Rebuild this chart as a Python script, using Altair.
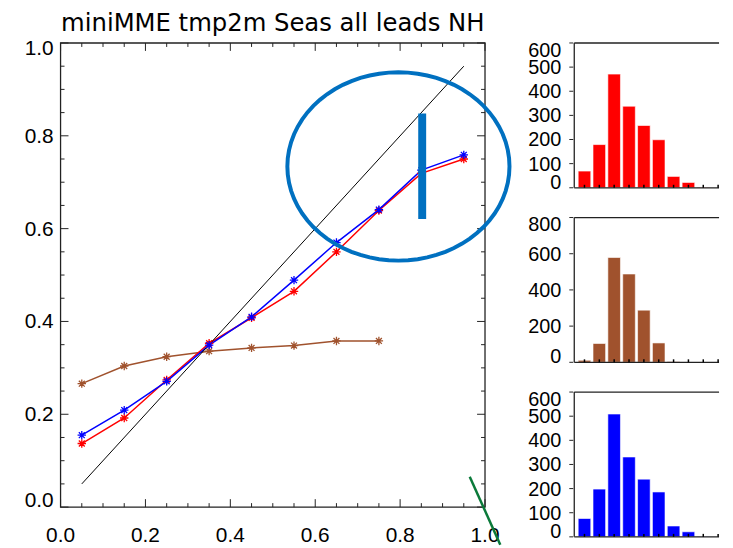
import math
import altair as alt
import pandas as pd

# ---------------- data ----------------
title_text = "miniMME tmp2m Seas all leads NH"
prob_bins = [0.05, 0.15, 0.25, 0.35, 0.45, 0.55, 0.65, 0.75, 0.85, 0.95]
obs_brown = [0.266, 0.304, 0.324, 0.336, 0.343, 0.348, 0.358, 0.358]
obs_red = [0.137, 0.192, 0.274, 0.353, 0.408, 0.465, 0.550, 0.639, 0.719, 0.750]
obs_blue = [0.155, 0.209, 0.271, 0.349, 0.410, 0.489, 0.570, 0.641, 0.726, 0.759]
diag_vals = [0.05, 0.95]

hist_red = [69, 179, 471, 338, 258, 199, 47, 22, 2, 0]
hist_brown = [11, 104, 579, 488, 288, 107, 4, 0, 0, 0]
hist_blue = [76, 198, 509, 331, 239, 186, 45, 21, 1, 0]

main_major = [0.0, 0.2, 0.4, 0.6, 0.8, 1.0]
main_labels = ["0.0", "0.2", "0.4", "0.6", "0.8", "1.0"]
main_minor = [0.05, 0.1, 0.15, 0.25, 0.3, 0.35, 0.45, 0.5, 0.55,
              0.65, 0.7, 0.75, 0.85, 0.9, 0.95]
hist_ticks_600 = [0, 100, 200, 300, 400, 500, 600]
hist_ticks_800 = [0, 200, 400, 600, 800]

# hand-drawn annotations (data coordinates of the main panel)
ell_x = [0.796]
ell_y = [0.734]
vbar_x = [0.852]
vbar_y1 = [0.621]
vbar_y2 = [0.848]
green_x = [0.964, 1.036]
green_y = [0.0656, -0.081]

RED = "#ff0000"
BLUE = "#0000ff"
BROWN = "#a0522d"
ANNO_BLUE = "#0070c0"
GREEN = "#0b7a3a"
INK = "#222222"
FONT = "Liberation Sans"

W, H = 428, 468
HW, HH = 156, 146

ASTERISK = "M-1,0L1,0M0,-1L0,1M-0.7,-0.7L0.7,0.7M-0.7,0.7L0.7,-0.7"
# unit ellipse outline (aspect of the hand-drawn annotation) as a symbol path
_pts = []
for k in range(73):
    t = math.radians(5 * k)
    _pts.append(f"{math.cos(t):.4f},{0.848 * math.sin(t):.4f}")
ELLIPSE = "M" + "L".join(_pts) + "Z"

# ---------------- main panel ----------------
xs = alt.Scale(domain=[0, 1], nice=False, zero=False)
ys = alt.Scale(domain=[0, 1], nice=False, zero=False)

rows = []
for name, vals in (("brown", obs_brown), ("red", obs_red), ("blue", obs_blue)):
    for p, v in zip(prob_bins, vals):
        rows.append({"p": p, "val": v, "series": name})
df_lines = pd.DataFrame(rows)
color_scale = alt.Scale(domain=["brown", "red", "blue"], range=[BROWN, RED, BLUE])

lines = alt.Chart(df_lines).mark_line(strokeWidth=1.5).encode(
    x=alt.X("p:Q", scale=xs, axis=None),
    y=alt.Y("val:Q", scale=ys, axis=None),
    color=alt.Color("series:N", scale=color_scale, legend=None),
)
points = alt.Chart(df_lines).mark_point(
    shape=ASTERISK, size=72, filled=False, strokeWidth=1.3, opacity=1
).encode(
    x=alt.X("p:Q", axis=None),
    y=alt.Y("val:Q", axis=None),
    color=alt.Color("series:N", scale=color_scale, legend=None),
)

frame_df = pd.DataFrame({"x0": [0.0], "x1": [1.0], "y0": [0.0], "y1": [1.0]})
frame = alt.Chart(frame_df).mark_rect(
    filled=False, stroke=INK, strokeWidth=1.3
).encode(
    x=alt.X("x0:Q", axis=None), x2="x1:Q",
    y=alt.Y("y0:Q", axis=None), y2="y1:Q",
)

diag = alt.Chart(pd.DataFrame({"d": diag_vals})).mark_line(
    color="black", strokeWidth=1
).encode(x=alt.X("d:Q", axis=None), y=alt.Y("d:Q", axis=None))

def tick_layers(vals, length):
    d = pd.DataFrame({"v": vals})
    base = alt.Chart(d).mark_rule(color=INK, strokeWidth=1)
    return [
        base.encode(y=alt.Y("v:Q", axis=None), x=alt.value(0), x2=alt.value(length)),
        base.encode(y=alt.Y("v:Q", axis=None), x=alt.value(W), x2=alt.value(W - length)),
        base.encode(x=alt.X("v:Q", axis=None), y=alt.value(H), y2=alt.value(H - length)),
        base.encode(x=alt.X("v:Q", axis=None), y=alt.value(0), y2=alt.value(length)),
    ]

ticks = tick_layers(main_major, 8) + tick_layers(main_minor, 4)

def y_labels(vals, labels, fs, pad, dy_first, dy_mid, dy_last):
    layers = []
    n = len(vals)
    for idx_sel, dy in ((range(0, 1), dy_first), (range(1, n - 1), dy_mid), (range(n - 1, n), dy_last)):
        d = pd.DataFrame({"v": [vals[i] for i in idx_sel], "lab": [labels[i] for i in idx_sel]})
        layers.append(
            alt.Chart(d).mark_text(align="right", baseline="middle", fontSize=fs, font=FONT,
                                   color="black", dy=dy)
            .encode(y=alt.Y("v:Q", axis=None), x=alt.value(-pad), text="lab:N")
        )
    return layers

main_ylab = y_labels(main_major, main_labels, 21, 7, -6, 1, 6)
main_xlab = alt.Chart(pd.DataFrame({"v": main_major, "lab": main_labels})).mark_text(
    align="center", baseline="top", fontSize=21, font=FONT, color="black"
).encode(x=alt.X("v:Q", axis=None), y=alt.value(H + 18), text="lab:N")

ellipse = alt.Chart(pd.DataFrame({"x": ell_x, "y": ell_y})).mark_point(
    shape=ELLIPSE, size=50176, filled=False, stroke=ANNO_BLUE, strokeWidth=4, opacity=1
).encode(x=alt.X("x:Q", axis=None), y=alt.Y("y:Q", axis=None))

vbar = alt.Chart(pd.DataFrame({"x": vbar_x, "y1": vbar_y1, "y2": vbar_y2})).mark_rule(
    color=ANNO_BLUE, strokeWidth=8, strokeCap="butt"
).encode(x=alt.X("x:Q", axis=None), y=alt.Y("y1:Q", axis=None), y2="y2:Q")

green = alt.Chart(pd.DataFrame({"x": green_x, "y": green_y})).mark_line(
    color=GREEN, strokeWidth=2.5
).encode(x=alt.X("x:Q", axis=None), y=alt.Y("y:Q", axis=None))

main = alt.layer(lines, frame, *ticks, diag, points, *main_ylab, main_xlab,
                 ellipse, vbar, green).properties(
    width=W, height=H,
    title=alt.TitleParams(title_text, fontSize=24.5, font="DejaVu Sans", fontWeight="normal",
                          color="black", anchor="middle", offset=-17, baseline="alphabetic"),
)

# ---------------- histograms ----------------
HX0, HX1 = -0.01875, 0.95625

def hist_panel(vals, color, ymax, yticks):
    xh = alt.Scale(domain=[HX0, HX1], nice=False, zero=False)
    yh = alt.Scale(domain=[0, ymax], nice=False, zero=False)
    df = pd.DataFrame({"p": prob_bins, "n": vals})
    bars = alt.Chart(df).mark_bar(size=12.7, color=color, stroke="white", strokeWidth=0.6).encode(
        x=alt.X("p:Q", scale=xh, axis=None),
        y=alt.Y("n:Q", scale=yh, axis=None),
    )
    fr = pd.DataFrame({"x0": [HX0], "x1": [HX1], "y0": [0], "y1": [ymax]})
    base = alt.Chart(fr).mark_rule(color=INK, strokeWidth=1.3)
    top = base.encode(x=alt.X("x0:Q", axis=None), x2="x1:Q", y=alt.Y("y1:Q", axis=None))
    bottom = base.encode(x=alt.X("x0:Q", axis=None), x2="x1:Q", y=alt.Y("y0:Q", axis=None))
    left = base.encode(x=alt.X("x0:Q", axis=None), y=alt.Y("y0:Q", axis=None), y2="y1:Q")
    xt = alt.Chart(df).mark_rule(color="black", strokeWidth=1.5).encode(
        x=alt.X("p:Q", axis=None), y=alt.value(HH), y2=alt.value(HH - 3)
    )
    yt = alt.Chart(pd.DataFrame({"v": yticks})).mark_rule(color=INK, strokeWidth=1).encode(
        y=alt.Y("v:Q", axis=None), x=alt.value(0), x2=alt.value(4)
    )
    ylab = y_labels(yticks, [str(t) for t in yticks], 20, 8, -5, 1, 8)
    return alt.layer(bars, top, bottom, left, xt, yt, *ylab).properties(width=HW, height=HH)

h1 = hist_panel(hist_red, RED, 600, hist_ticks_600)
h2 = hist_panel(hist_brown, BROWN, 800, hist_ticks_800)
h3 = hist_panel(hist_blue, BLUE, 600, hist_ticks_600)

hists = alt.vconcat(h1, h2, h3, spacing=30, bounds="flush")

chart = alt.hconcat(main, hists, spacing=85, bounds="flush").properties(
    padding={"left": 16, "top": 0, "right": 0, "bottom": 0},
    background="white",
).configure_view(stroke=None)

chart.save("out.html", embed_options={"renderer": "svg", "actions": False})
